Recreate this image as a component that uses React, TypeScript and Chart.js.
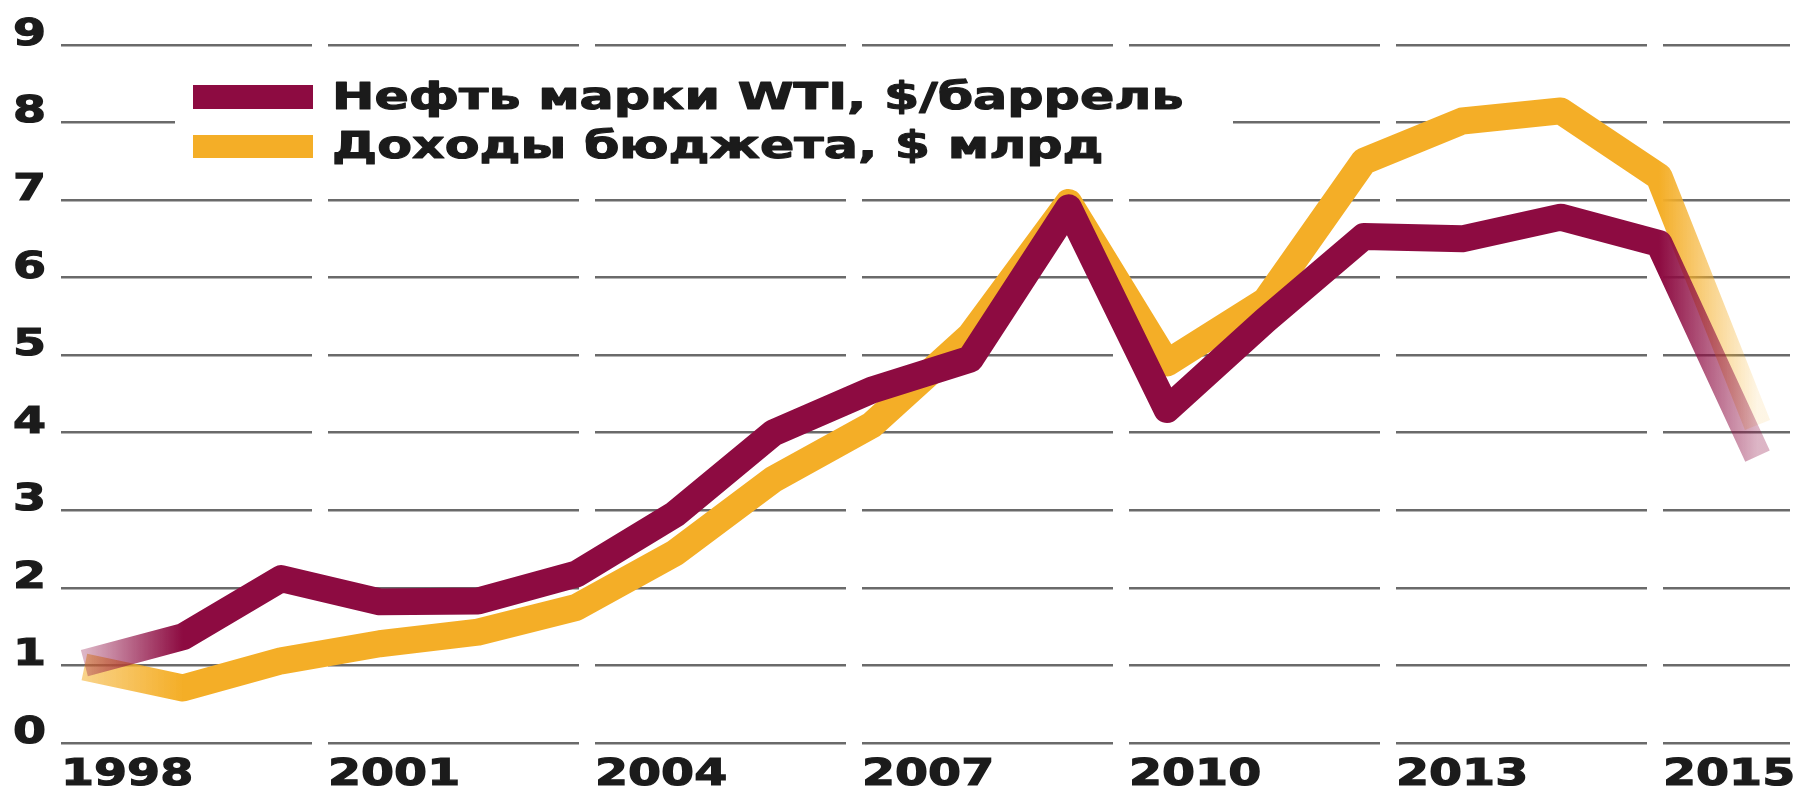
import React, { useEffect, useRef } from 'react';
import { Chart, registerables } from 'chart.js';

Chart.register(...registerables);

// ---- data ----
const years = [1998, 1999, 2000, 2001, 2002, 2003, 2004, 2005, 2006, 2007, 2008, 2009, 2010, 2011, 2012, 2013, 2014, 2015];
const oilWTI = [1.03, 1.37, 2.12, 1.82, 1.83, 2.18, 2.95, 4.0, 4.55, 4.95, 6.9, 4.3, 5.45, 6.53, 6.5, 6.78, 6.44, 3.7];
const budgetRevenue = [0.98, 0.71, 1.06, 1.28, 1.43, 1.75, 2.45, 3.4, 4.1, 5.25, 6.97, 4.9, 5.7, 7.5, 8.02, 8.15, 7.3, 4.1];
const yTickValues = [0, 1, 2, 3, 4, 5, 6, 7, 8, 9];
const xTickLabels = ['1998', '2001', '2004', '2007', '2010', '2013', '2015'];
const seriesLabels = ['Нефть марки WTI, $/баррель', 'Доходы бюджета, $ млрд'];

const W = 1793;
const H = 795;
const MAROON = '141,11,65';
const GOLD = '244,174,39';
const FONT = 'DejaVu Sans';
const TEXT = '#1b1b1b';
const TICK_SCALE_X = 1.25;
const LEGEND_SCALE_X = 1.37;

const fadeStroke = (rgb: string, startA: number, endA: number) => (ctx: any) => {
  const chart = ctx.chart;
  const xs = chart.scales && chart.scales.x;
  if (!chart.chartArea || !xs) return `rgb(${rgb})`;
  const x0 = xs.getPixelForValue(years[0]);
  const x1 = xs.getPixelForValue(years[years.length - 1]);
  const n = years.length - 1;
  const g = chart.ctx.createLinearGradient(x0, 0, x1, 0);
  g.addColorStop(0, `rgba(${rgb},${startA})`);
  g.addColorStop(1 / n, `rgba(${rgb},1)`);
  g.addColorStop((n - 1) / n, `rgba(${rgb},1)`);
  g.addColorStop(1, `rgba(${rgb},${endA})`);
  return g;
};

// Emulates the wide (extended) typeface of the original by stretching glyphs horizontally
// around their anchor point, so text alignment is preserved.
const wideTextPlugin = {
  id: 'wideText',
  beforeDraw(chart: any) {
    const ctx: any = chart.ctx;
    if (ctx.__wideWrapped) return;
    const origFill = ctx.fillText.bind(ctx);
    const origStroke = ctx.strokeText.bind(ctx);
    ctx.__origFill = origFill;
    ctx.__origStroke = origStroke;
    ctx.fillText = (t: string, x: number, y: number) => {
      ctx.save();
      ctx.translate(x, y);
      ctx.scale(TICK_SCALE_X, 1);
      origFill(t, 0, 0);
      ctx.restore();
    };
    ctx.strokeText = (t: string, x: number, y: number) => {
      ctx.save();
      ctx.translate(x, y);
      ctx.scale(TICK_SCALE_X, 1);
      origStroke(t, 0, 0);
      ctx.restore();
    };
    ctx.__wideWrapped = true;
  },
};

const legendPlugin = {
  id: 'insideLegend',
  beforeDatasetsDraw(chart: any) {
    const ctx: any = chart.ctx;
    const fill = ctx.__origFill || ctx.fillText.bind(ctx);
    const stroke = ctx.__origStroke || ctx.strokeText.bind(ctx);
    ctx.save();
    ctx.fillStyle = '#ffffff';
    ctx.fillRect(175, 62, 1058, 115);
    const rows = [
      { top: 85, h: 24, base: 109 },
      { top: 135, h: 23, base: 158 },
    ];
    chart.data.datasets.forEach((ds: any, i: number) => {
      const r = rows[i];
      ctx.fillStyle = i === 0 ? `rgb(${MAROON})` : `rgb(${GOLD})`;
      ctx.fillRect(193, r.top, 120, r.h);
      ctx.save();
      ctx.translate(332, r.base);
      ctx.scale(LEGEND_SCALE_X, 1);
      ctx.font = `bold 37px "${FONT}"`;
      ctx.fillStyle = TEXT;
      ctx.strokeStyle = TEXT;
      ctx.lineWidth = 1.1;
      ctx.lineJoin = 'round';
      ctx.textAlign = 'left';
      ctx.textBaseline = 'alphabetic';
      fill(ds.label, 0, 0);
      stroke(ds.label, 0, 0);
      ctx.restore();
    });
    ctx.restore();
  },
};

export default function App() {
  const ref = useRef<HTMLCanvasElement | null>(null);

  useEffect(() => {
    if (!ref.current) return;
    const tickFont = { family: FONT, weight: 'bold' as const, size: 38 };
    const chart = new Chart(ref.current, {
      type: 'line',
      data: {
        datasets: [
          {
            label: seriesLabels[0],
            data: years.map((yr, i) => ({ x: yr, y: oilWTI[i] })),
            borderColor: fadeStroke(MAROON, 0.3, 0.3),
            borderWidth: 27,
            borderJoinStyle: 'round',
            borderCapStyle: 'butt',
            pointRadius: 0,
            tension: 0,
            fill: false,
            xAxisID: 'x',
            yAxisID: 'y',
          },
          {
            label: seriesLabels[1],
            data: years.map((yr, i) => ({ x: yr, y: budgetRevenue[i] })),
            borderColor: fadeStroke(GOLD, 0.55, 0.12),
            borderWidth: 27,
            borderJoinStyle: 'round',
            borderCapStyle: 'butt',
            pointRadius: 0,
            tension: 0,
            fill: false,
            xAxisID: 'x',
            yAxisID: 'y',
          },
        ],
      },
      options: {
        animation: false,
        responsive: false,
        devicePixelRatio: 1,
        layout: { padding: { top: 37.2, right: 3, bottom: 0, left: 0 } },
        plugins: {
          legend: { display: false },
          tooltip: { enabled: false },
        },
        scales: {
          x: {
            type: 'linear',
            display: false,
            min: 1997.6,
            max: 2015.33,
          },
          xg: {
            type: 'linear',
            position: 'bottom',
            min: -8 / 267,
            max: 1737 / 267,
            afterBuildTicks: (scale: any) => {
              scale.ticks = xTickLabels.map((_, i) => ({ value: i }));
            },
            afterFit: (scale: any) => {
              scale.height = 44.2;
            },
            grid: {
              color: '#ffffff',
              lineWidth: 16,
              drawTicks: false,
              z: -1,
            },
            border: { display: false },
            ticks: {
              autoSkip: false,
              maxRotation: 0,
              align: 'start',
              labelOffset: 8,
              padding: 2,
              color: TEXT,
              textStrokeColor: TEXT,
              textStrokeWidth: 1.2,
              font: tickFont,
              callback: (_v: any, i: number) => xTickLabels[i],
            },
          },
          y: {
            type: 'linear',
            position: 'left',
            min: -0.1,
            max: 9.1,
            afterBuildTicks: (scale: any) => {
              scale.ticks = yTickValues.map((v) => ({ value: v }));
            },
            afterFit: (scale: any) => {
              scale.width = 45;
            },
            grid: {
              color: '#6a6a6a',
              lineWidth: 2.6,
              drawTicks: false,
              z: -2,
            },
            border: { display: false },
            ticks: {
              padding: -1,
              labelOffset: -10,
              color: TEXT,
              textStrokeColor: TEXT,
              textStrokeWidth: 1.2,
              font: tickFont,
              callback: (v: any) => String(v),
            },
          },
        },
      } as any,
      plugins: [wideTextPlugin, legendPlugin],
    });
    return () => chart.destroy();
  }, []);

  return (
    <div style={{ position: 'absolute', left: 0, top: 0, width: W, height: H, background: '#ffffff' }}>
      <canvas ref={ref} width={W} height={H} style={{ display: 'block' }} />
    </div>
  );
}
